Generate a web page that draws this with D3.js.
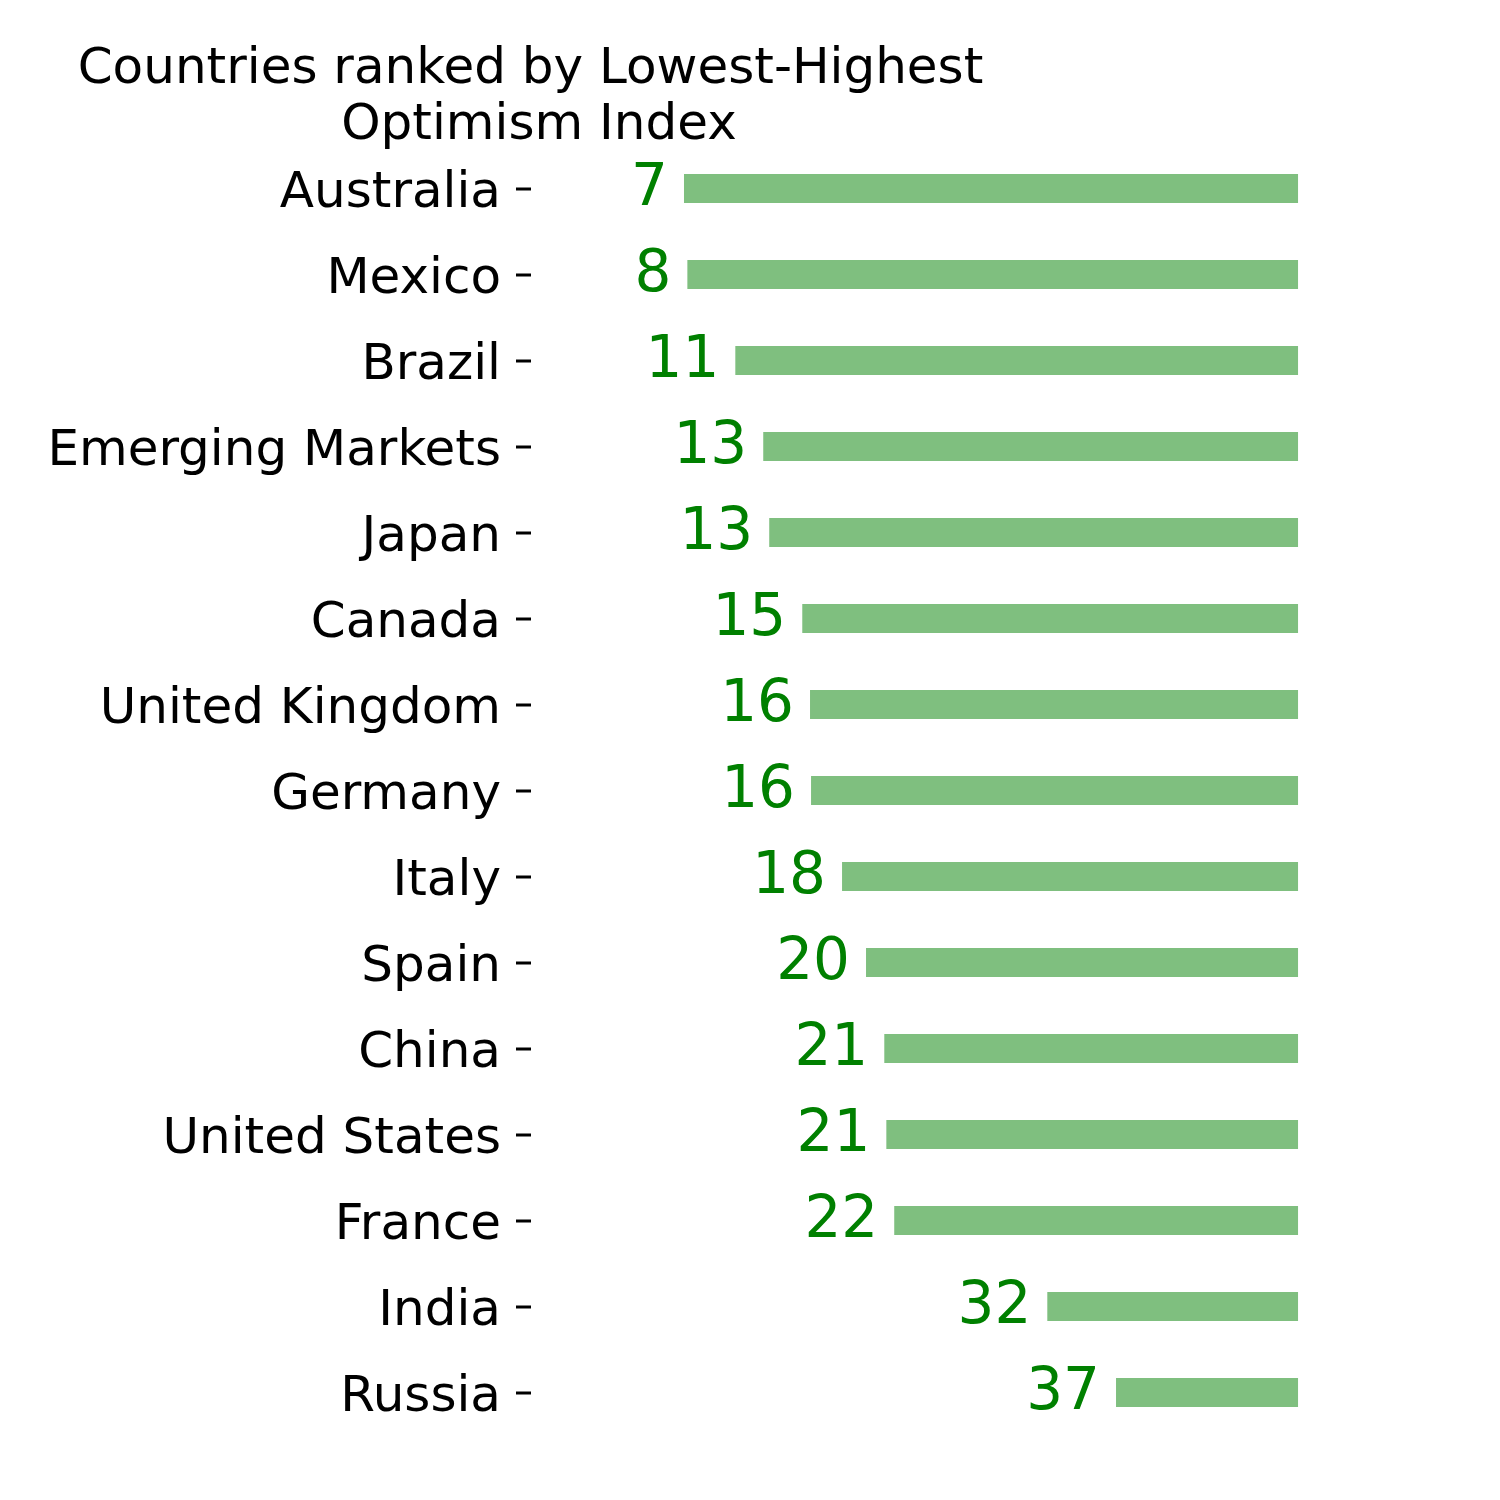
<!DOCTYPE html>
<html>
<head>
<meta charset="utf-8">
<script src="https://cdn.jsdelivr.net/npm/d3@7"></script>
<style>
  body { margin: 0; background: #fff; }
  text { font-family: "DejaVu Sans", sans-serif; }
</style>
</head>
<body>
<div id="content"></div>
<script>
const W = 1500, H = 1500;

// Data (ranked lowest -> highest)
const countries = ["Australia", "Mexico", "Brazil", "Emerging Markets", "Japan", "Canada",
    "United Kingdom", "Germany", "Italy", "Spain", "China", "United States", "France", "India", "Russia"];
const optimism = [7.38, 7.61, 10.89, 12.80, 13.21, 15.47, 16.0, 16.07, 18.19, 19.83, 21.08, 21.22, 21.76, 32.23, 36.93];
const barEnd = 49.38;   // every bar runs out to this value
const titleLines = ["Countries ranked by Lowest-Highest", "Optimism Index"];

const rows = countries.map((c, i) => ({country: c, value: optimism[i]}));

// scales
const x = d3.scaleLinear()
    .domain([0, 50])
    .range([576.1, 576.1 + 50 * 14.62]);

const y = d3.scalePoint()
    .domain(countries)
    .range([188.5, 1392.5]);

const barH = 29;

const svg = d3.select("#content")
    .append("svg")
    .attr("width", W)
    .attr("height", H);

svg.append("rect")
    .attr("width", W)
    .attr("height", H)
    .attr("fill", "#fff");

// title (first line had a trailing space in the original, so it sits a bit left)
svg.append("text")
    .attr("y", 83)
    .attr("text-anchor", "middle")
    .attr("font-size", 50)
    .attr("fill", "black")
    .selectAll("tspan")
    .data(titleLines)
    .enter()
        .append("tspan")
        .attr("x", (d, i) => i ? 539 : 530.5)
        .attr("dy", (d, i) => i ? 56 : 0)
        .text(d => d);

// y axis, no spine
const yAxis = svg.append("g")
    .attr("transform", "translate(531,0)")
    .call(d3.axisLeft(y).tickSize(15).tickPadding(15));
yAxis.select(".domain").remove();
yAxis.selectAll(".tick line")
    .attr("stroke", "black")
    .attr("stroke-width", 3);
yAxis.selectAll(".tick text")
    .attr("font-size", 50)
    .attr("font-family", "DejaVu Sans")
    .attr("fill", "black")
    .attr("dy", "0.36em");

// bars
svg.selectAll(".bar")
    .data(rows)
    .enter()
        .append("rect")
        .attr("class", "bar")
        .attr("x", d => x(d.value))
        .attr("y", d => y(d.country) - barH / 2)
        .attr("width", d => x(barEnd) - x(d.value))
        .attr("height", barH)
        .attr("fill", "green")
        .attr("opacity", 0.5);

// value labels
const fmt = d3.format(".0f");
svg.selectAll(".val")
    .data(rows)
    .enter()
        .append("text")
        .attr("class", "val")
        .attr("x", d => x(d.value) - 16)
        .attr("y", d => y(d.country))
        .attr("dy", "0.29em")
        .attr("text-anchor", "end")
        .attr("font-size", 58)
        .attr("fill", "green")
        .text(d => fmt(d.value));
</script>
</body>
</html>
